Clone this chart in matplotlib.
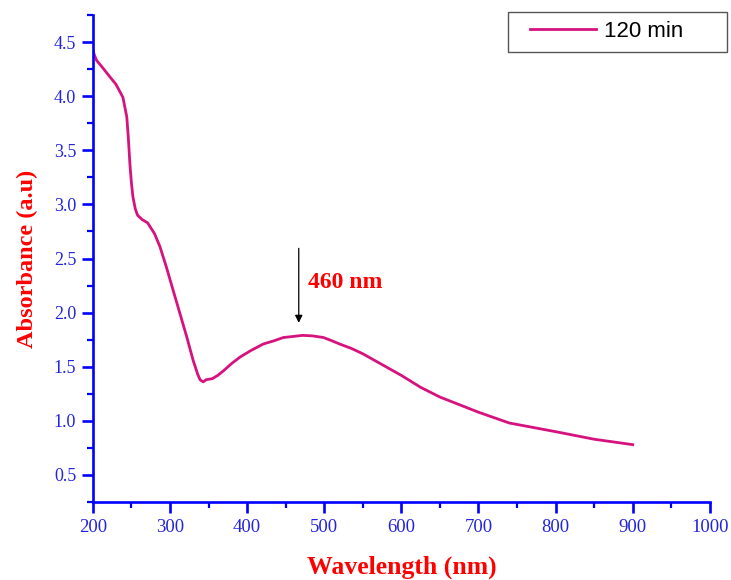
import matplotlib
matplotlib.use('Agg')
import matplotlib.pyplot as plt
from matplotlib.ticker import MultipleLocator
from matplotlib.patches import Rectangle

# Spectre (nm, absorbance)
wavelength = [200, 202, 205, 212, 222, 230, 239, 244, 246, 248, 250, 252, 255, 258,
              264, 271, 280, 287, 295, 304, 313, 322, 330, 336, 339, 343, 347, 355,
              362, 369, 380, 391, 405, 421, 435, 447, 460, 472, 485, 499, 510, 520,
              535, 550, 575, 600, 625, 650, 675, 700, 720, 740, 770, 800, 850, 900]
absorbance = [4.43, 4.38, 4.33, 4.27, 4.18, 4.11, 3.99, 3.81, 3.62, 3.38, 3.20, 3.07, 2.96, 2.90,
              2.86, 2.83, 2.73, 2.61, 2.43, 2.21, 1.99, 1.77, 1.56, 1.43, 1.38, 1.36, 1.38, 1.39,
              1.42, 1.46, 1.53, 1.59, 1.65, 1.71, 1.74, 1.77, 1.78, 1.79, 1.785, 1.77, 1.74, 1.71,
              1.67, 1.62, 1.52, 1.42, 1.31, 1.22, 1.15, 1.08, 1.03, 0.98, 0.94, 0.90, 0.83, 0.78]
peak_nm = 467
peak_val = 1.80

bleu = '#0000ff'
bleu_txt = '#2424e0'
rouge = '#ff0000'
rose = '#d6127f'

fig = plt.figure(figsize=(7.31, 5.80), dpi=100)
ax = fig.add_axes([0.127, 0.1345, 0.844, 0.8395])

ax.plot(wavelength, absorbance, color=rose, lw=2.0, label='120 min')

ax.set_xlim(200, 1000)
ax.set_ylim(0.25, 4.75)
ax.xaxis.set_major_locator(MultipleLocator(100))
ax.xaxis.set_minor_locator(MultipleLocator(50))
ax.yaxis.set_minor_locator(MultipleLocator(0.25))
ax.set_yticks([0.5, 1.0, 1.5, 2.0, 2.5, 3.0, 3.5, 4.0, 4.5])

for s in ['top', 'right']:
    ax.spines[s].set_visible(False)
for s in ['left', 'bottom']:
    ax.spines[s].set_color(bleu)
    ax.spines[s].set_linewidth(1.9)

ax.tick_params(which='major', direction='out', length=8, width=1.9, color=bleu,
               labelcolor=bleu_txt, pad=4)
ax.tick_params(which='minor', direction='out', length=4, width=1.6, color=bleu)
ax.tick_params(axis='x', labelsize=13.5)
ax.tick_params(axis='y', labelsize=13)
for lab in ax.get_xticklabels() + ax.get_yticklabels():
    lab.set_family('Liberation Serif')

ax.set_xlabel('Wavelength (nm)', fontsize=18.5, fontweight='bold', color=rouge,
              family='Liberation Serif', labelpad=14)
ax.set_ylabel('Absorbance (a.u)', fontsize=17.5, fontweight='bold', color=rouge,
              family='Liberation Serif', labelpad=11)

# fleche du pic
ax.annotate('', xy=(peak_nm, peak_val + 0.08), xytext=(peak_nm, peak_val + 0.82),
            arrowprops=dict(arrowstyle='-|>', color='black', lw=0.9, mutation_scale=11))
ax.text(peak_nm + 12, peak_val + 0.48, '460 nm', fontsize=17, fontweight='bold',
        color=rouge, family='Liberation Serif', va='center')

# legende: cadre dessine a part
fig.patches.append(Rectangle((508 / 731, 1 - 52 / 580), 219 / 731, 40 / 580,
                             transform=fig.transFigure, fill=False,
                             edgecolor='#555555', lw=1.0))
fig.legend(loc='center left', bbox_to_anchor=(530 / 731, 1 - 31.5 / 580), frameon=False,
           handlelength=2.95, handletextpad=0.36, borderpad=0, borderaxespad=0,
           prop={'family': 'Liberation Sans', 'size': 16})

fig.savefig('out.png', dpi=100)
